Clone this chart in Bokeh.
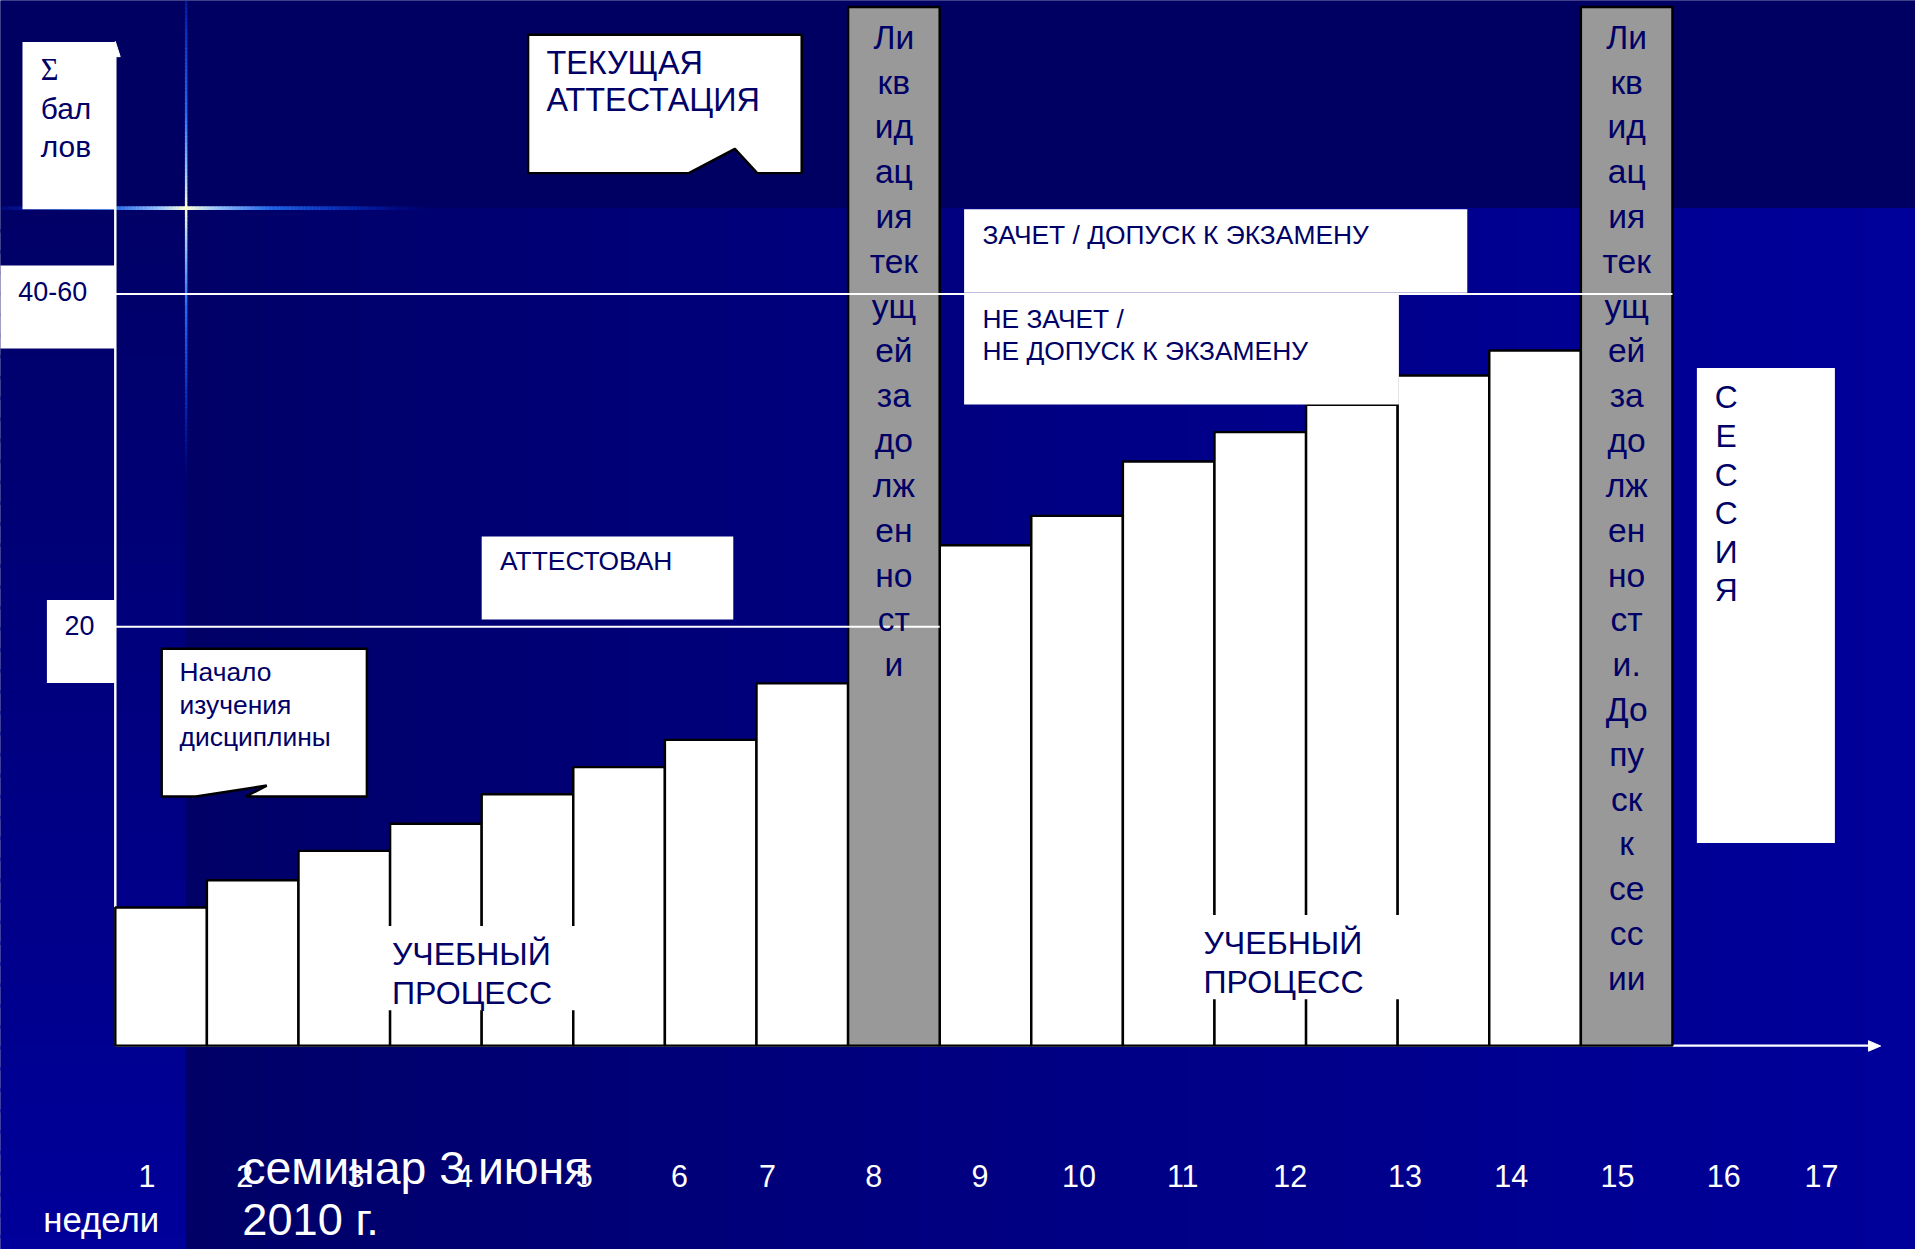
import numpy as np
from bokeh.plotting import figure
from bokeh.models import Range1d
from bokeh.core.properties import value
from bokeh.embed import file_html
from bokeh.resources import INLINE

# ---------------- data ----------------
week_labels = ["1", "2", "3", "4", "5", "6", "7", "8", "9", "10",
               "11", "12", "13", "14", "15", "16", "17"]
# accumulated score per bar slot, first half of the term (slots 1..8)
scores_first = [6.6, 7.9, 9.3, 10.6, 12.0, 13.3, 14.6, 17.3]
# accumulated score per bar slot, second half of the term (slots 10..16)
scores_second = [23.9, 25.3, 27.9, 29.3, 30.6, 32.0, 33.2]
slots_first = [1, 2, 3, 4, 5, 6, 7, 8]
slots_second = [10, 11, 12, 13, 14, 15, 16]
# debt liquidation blocks
debt_slots = [9, 17]
debt_height = 49.6
level_pass = 20.0      # "20"
level_exam = 35.9      # "40-60"

debt_text_1 = ["Ли", "кв", "ид", "ац", "ия", "тек", "ущ", "ей", "за", "до",
               "лж", "ен", "но", "ст", "и"]
debt_text_2 = ["Ли", "кв", "ид", "ац", "ия", "тек", "ущ", "ей", "за", "до",
               "лж", "ен", "но", "ст", "и.", "До", "пу", "ск", "к", "се",
               "сс", "ии"]
session_letters = ["С", "Е", "С", "С", "И", "Я"]

# ---------------- geometry helpers (reference pixel layout) ----------------
SX = 1915 / 1568
SY = 1249 / 1023
W, H = 1915, 1249
PX_L, PX_R = 0.0, 1568.0
PY_T, PY_B = 0.0, 1023.0
X0_PX, SLOT_PX = 94.0, 75.0
Y0_PX, PT_PX = 856.0, 17.15


def X(px):
    return (px - X0_PX) / SLOT_PX + 0.5


def Y(py):
    return (Y0_PX - py) / PT_PX


def fs(d):
    return value(f"{d * SX:.1f}px")


def lw(d):
    return d * SX


NAVY = "#000066"
FONT = "Liberation Sans"

p = figure(width=W, height=H,
           x_range=Range1d(X(PX_L), X(PX_R)),
           y_range=Range1d(Y(PY_B), Y(PY_T)),
           x_axis_type=None, y_axis_type=None,
           output_backend="svg", toolbar_location=None, min_border=0)
p.xgrid.visible = False
p.ygrid.visible = False
p.outline_line_color = None
p.background_fill_color = "#000063"
p.border_fill_color = "#000063"


def hexcol(c):
    return "#%02x%02x%02x" % tuple(int(round(max(0, min(255, v)))) for v in c)


# ---------------- background ----------------
# top band
p.quad(left=X(PX_L - 5), right=X(PX_R + 5), top=Y(PY_T - 5), bottom=Y(170),
       fill_color="#000063", line_color=None)
# left strip vertical gradient
n = 50
ys = np.linspace(170, PY_B + 5, n + 1)
cols = [hexcol((0, 0, 0x66 + (0x9b - 0x66) * (i + 0.5) / n)) for i in range(n)]
p.quad(left=[X(PX_L - 5)] * n, right=[X(153)] * n,
       top=[Y(ys[i]) for i in range(n)],
       bottom=[Y(ys[i + 1] + 3) for i in range(n)],
       fill_color=cols, line_color=None)
# main region horizontal gradient
n = 90
xs = np.linspace(152, PX_R + 5, n + 1)
cols = [hexcol((0, 0, 0x66 + (0x9b - 0x66) * ((i + 0.5) / n) ** 0.85)) for i in range(n)]
p.quad(left=[X(xs[i]) for i in range(n)],
       right=[X(xs[i + 1] + 3) for i in range(n)],
       top=[Y(170)] * n, bottom=[Y(PY_B + 5)] * n,
       fill_color=cols, line_color=None)

# flare (cross of light)
stops = [(0.0, (255, 255, 215)), (0.12, (160, 205, 255)), (0.35, (40, 120, 255)),
         (0.7, (10, 70, 235)), (1.0, (0, 20, 170))]


def flare_col(t):
    t = min(max(t, 0), 1)
    for (t0, c0), (t1, c1) in zip(stops[:-1], stops[1:]):
        if t <= t1:
            f = (t - t0) / (t1 - t0)
            return hexcol(tuple(a + (b - a) * f for a, b in zip(c0, c1)))
    return hexcol(stops[-1][1])


hx0, hx1, hy0, hy1, hcol, halp = [], [], [], [], [], []
step = 3
for xa in np.arange(0, 360, step):
    d = abs(xa + step / 2 - 152)
    L = 175 if xa < 152 else 200
    t = d / L
    hx0.append(X(xa)); hx1.append(X(xa + step + 0.5))
    hy0.append(Y(170)); hy1.append(Y(170))
    hcol.append(flare_col(t)); halp.append(max(0.0, 1 - t ** 1.5))
p.segment(x0=hx0, y0=hy0, x1=hx1, y1=hy1, line_color=hcol, line_alpha=halp,
          line_width=lw(3))
vx0, vx1, vy0, vy1, vcol, valp = [], [], [], [], [], []
for ya in np.arange(0, 420, step):
    d = abs(ya + step / 2 - 170)
    L = 220 if ya < 170 else 230
    t = d / L
    vx0.append(X(152)); vx1.append(X(152))
    vy0.append(Y(ya)); vy1.append(Y(ya + step + 0.5))
    vcol.append(flare_col(t)); valp.append(max(0.0, 1 - t ** 2))
p.segment(x0=vx0, y0=vy0, x1=vx1, y1=vy1, line_color=vcol, line_alpha=valp,
          line_width=lw(2))

# ---------------- axes ----------------
p.segment(x0=[X(94)], y0=[Y(856)], x1=[X(1530)], y1=[Y(856)],
          line_color="white", line_width=lw(2))
p.patch(x=[X(1529.5), X(1539.5), X(1529.5)], y=[Y(852), Y(856.3), Y(860.6)],
        fill_color="white", line_color="white", line_width=1)
p.segment(x0=[X(94)], y0=[Y(856)], x1=[X(94)], y1=[Y(44)],
          line_color="white", line_width=lw(2))
p.patch(x=[X(90), X(94), X(98)], y=[Y(46), Y(33.5), Y(46)],
        fill_color="white", line_color="white", line_width=1)

# ---------------- bars ----------------
slots = slots_first + slots_second
scores = scores_first + scores_second
p.quad(left=[s - 0.5 for s in slots], right=[s + 0.5 for s in slots],
       bottom=[0] * len(slots), top=scores,
       fill_color="white", line_color="black", line_width=lw(2))
p.quad(left=[s - 0.5 for s in debt_slots], right=[s + 0.5 for s in debt_slots],
       bottom=[0] * len(debt_slots), top=[debt_height] * len(debt_slots),
       fill_color="#999999", line_color="black", line_width=lw(2))

# threshold lines
p.segment(x0=[0.5], y0=[level_pass], x1=[debt_slots[0] + 0.5], y1=[level_pass],
          line_color="white", line_width=lw(1.6))
p.segment(x0=[0.5], y0=[level_exam], x1=[debt_slots[1] + 0.5], y1=[level_exam],
          line_color="white", line_width=lw(1.6))


def box(l, t, r, b, outline=None):
    p.quad(left=[X(l)], right=[X(r)], top=[Y(t)], bottom=[Y(b)],
           fill_color="white",
           line_color=outline if outline else None,
           line_width=lw(2) if outline else 0)


def poly(pts, outline="black"):
    p.patch(x=[X(a) for a, b in pts], y=[Y(b) for a, b in pts],
            fill_color="white", line_color=outline, line_width=lw(2))


TEXT_SHIFT = 0.34  # empirical baseline correction, fraction of font size


def txt(x, y, s, size, color=NAVY, align="left", font=FONT):
    if isinstance(s, str):
        s = [s]; x = [x]; y = [y]
    p.text(x=[X(a) for a in x], y=[Y(b - TEXT_SHIFT * size) for b in y], text=s,
           text_font=value(font), text_font_size=fs(size), text_color=color,
           text_align=align, text_baseline="alphabetic")


# ---------------- annotation boxes ----------------
# Σ баллов
box(18, 34, 94, 171)
txt(33, 65.5, "Σ", 25, font="Liberation Serif")
txt([33, 33], [96.9, 128.3], ["бал", "лов"], 24.5)
# 40-60
box(-5, 217, 94, 285)
txt(14.6, 245.5, "40-60", 22)
# 20
box(38, 491, 94, 559)
txt(52.4, 519.5, "20", 22)

# ТЕКУЩАЯ АТТЕСТАЦИЯ callout
poly([(432, 28), (656, 28), (656, 141.4), (619.6, 141.4), (601.3, 121.5),
      (563.6, 141.4), (432, 141.4)])
txt([447, 447], [60, 90.8], ["ТЕКУЩАЯ", "АТТЕСТАЦИЯ"], 26.5)

# ЗАЧЕТ / НЕ ЗАЧЕТ
box(789, 171, 1201, 239.3)
txt(804, 199.2, "ЗАЧЕТ / ДОПУСК К ЭКЗАМЕНУ", 21.6)
box(789, 241, 1145, 331)
txt([804, 804], [268, 294.5], ["НЕ ЗАЧЕТ /", "НЕ ДОПУСК К ЭКЗАМЕНУ"], 21.6)

# АТТЕСТОВАН
box(394, 439, 600, 507)
txt(409, 466.5, "АТТЕСТОВАН", 21.6)

# Начало изучения дисциплины callout
poly([(132, 531), (300, 531), (300, 652), (201, 652), (218, 643), (160, 652),
      (132, 652)])
txt([146.6] * 3, [557.5, 584.2, 610.5], ["Начало", "изучения", "дисциплины"], 21.6)

# УЧЕБНЫЙ ПРОЦЕСС labels
box(246, 758, 472, 827)
txt([320.5, 320.5], [790, 821.5], ["УЧЕБНЫЙ", "ПРОЦЕСС"], 26.3)
box(923, 749, 1148, 818)
txt([985, 985], [781, 812.8], ["УЧЕБНЫЙ", "ПРОЦЕСС"], 26.3)

# debt liquidation texts (vertical syllables)
for slot, words in zip(debt_slots, [debt_text_1, debt_text_2]):
    cx = X0_PX + SLOT_PX * (slot - 0.5)
    txt([cx] * len(words), [39.5 + 36.7 * i for i in range(len(words))],
        words, 27.5, align="center")

# СЕССИЯ
box(1389, 301, 1502, 690)
txt([1413] * len(session_letters),
    [334 + 31.6 * i for i in range(len(session_letters))],
    session_letters, 26, align="center")

# ---------------- week labels ----------------
week_x = [120, 200, 291, 380, 478, 556, 628, 715, 802, 883, 968, 1056,
          1150, 1237, 1324, 1411, 1491]
txt(week_x, [971.6] * len(week_x), week_labels, 25, color="white", align="center")
txt(35, 1008.5, "недели", 28.5, color="white")
txt(198, 969.5, "семинар 3 июня", 38, color="white")
txt(198, 1011, "2010 г.", 37, color="white")

open("out.html", "w").write(file_html(p, INLINE))
